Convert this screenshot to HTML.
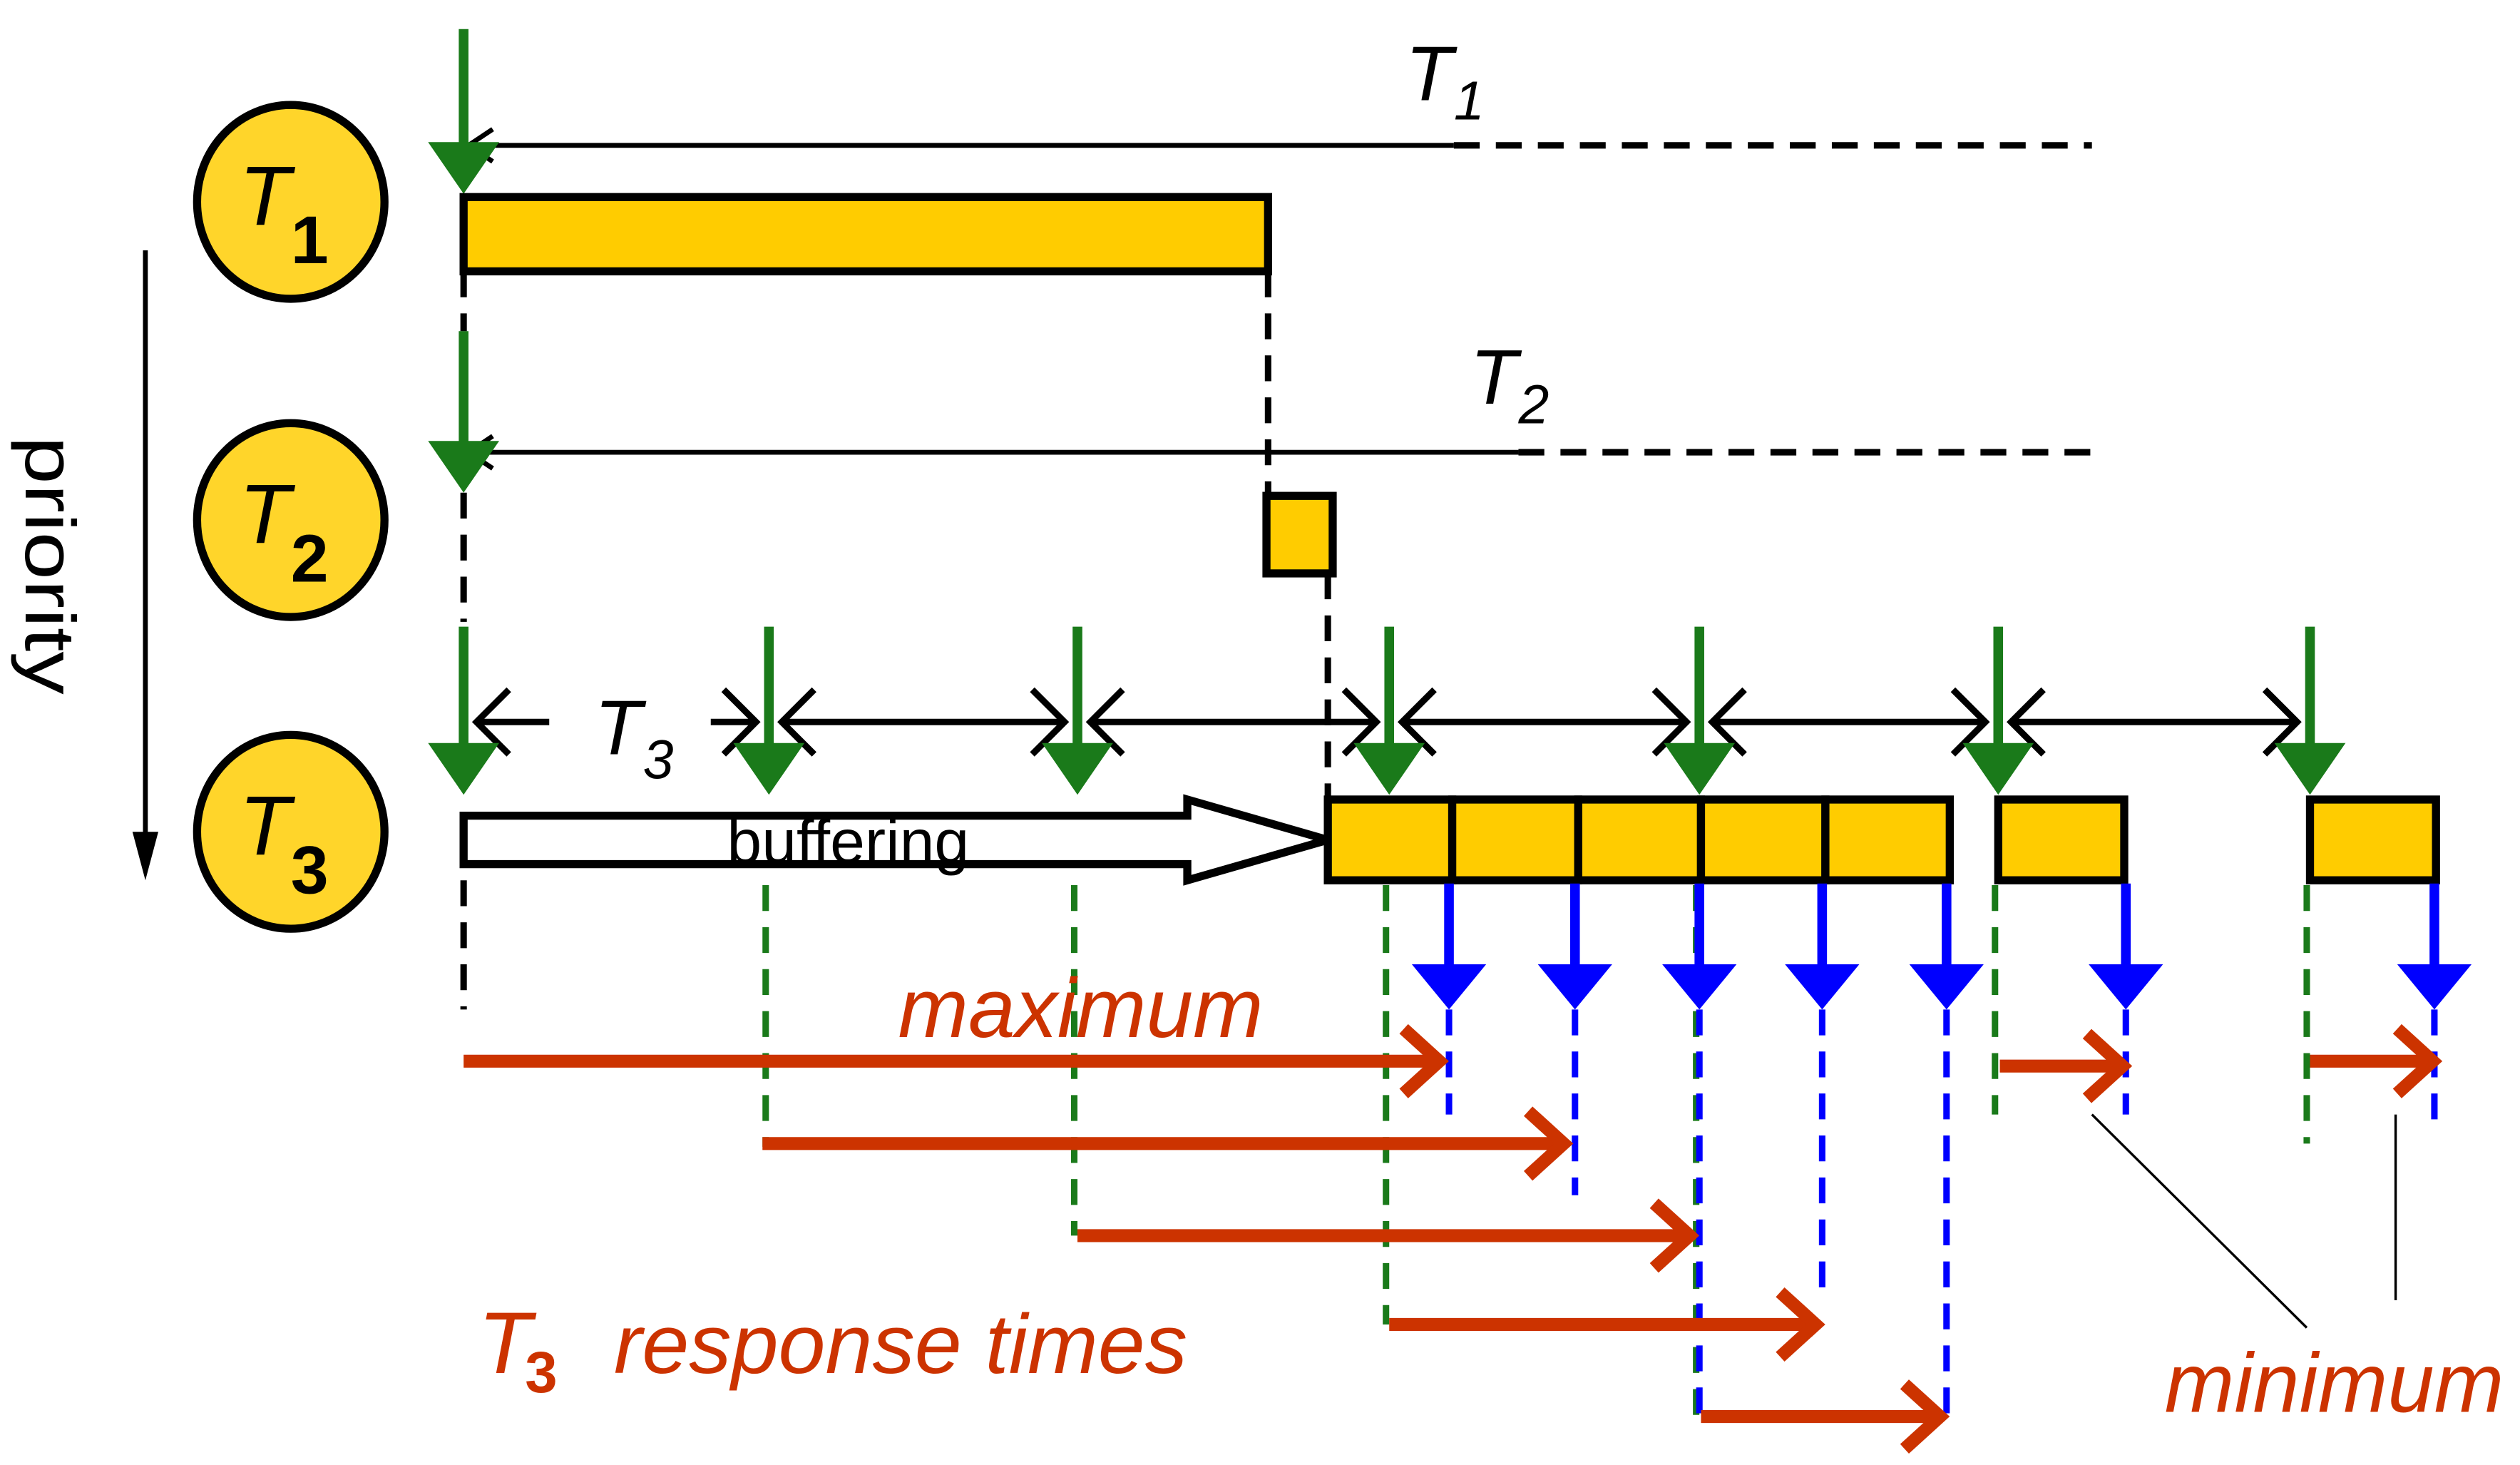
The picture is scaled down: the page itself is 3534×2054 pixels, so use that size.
<!DOCTYPE html>
<html><head><meta charset="utf-8"><style>
html,body{margin:0;padding:0;background:#fff;}
svg{display:block;}
text{font-family:"Liberation Sans",sans-serif;}
</style></head><body>
<svg id="chart" xmlns="http://www.w3.org/2000/svg" width="3534" height="2054" viewBox="0 0 1560 907" preserveAspectRatio="none">
<g id="static"></g>
</svg>
<script>
// data (time in diagram x units)
const t3Releases = [287, 476, 667, 860, 1052, 1237, 1430];
const t3JobEnds = [897, 975, 1052, 1128, 1205, 1316, 1507];
const t3BarSegments = [[822,899],[899,977],[977,1053],[1053,1130],[1130,1207],[1237,1315],[1430,1508]];
const responseStarts = [287, 472, 667, 860, 1053, 1238, 1430];
const responseEnds = [895, 972, 1050, 1128, 1205, 1318, 1510];
const responseY = [657, 708, 765, 820, 877, 660, 657];
const blueDashEnd = [690, 740, 885, 800, 875, 690, 695];
const greenDashEnd = [625, 710, 765, 820, 885, 690, 708];

const NS='http://www.w3.org/2000/svg';
const svg=document.getElementById('chart');
function mk(tag,attrs,parent){const e=document.createElementNS(NS,tag);for(const k in attrs)e.setAttribute(k,attrs[k]);(parent||svg).appendChild(e);return e;}
const G='#1a7a1a',Y='#FFCC00',R='#CC3300',B='#0000FF';

function greenArrow(x,y1,y2,name){
  const g=mk('g',{});
  
  
  mk('line',{x1:x,y1:y1,x2:x,y2:y2-20,stroke:G,'stroke-width':6},g);
  mk('polygon',{points:`${x-22},${y2-32} ${x+22},${y2-32} ${x},${y2}`,fill:G},g);
}
function dashV(x,y1,y2,col,name,w){
  const l=mk('line',{x1:x,y1:y1,x2:x,y2:y2,stroke:col,'stroke-width':w||4,'stroke-dasharray':'16,10'});
  
  
}
// circles
[[125,'1'],[322,'2'],[515,'3']].forEach(([cy,n])=>{
  const g=mk('g',{});
  
  
  mk('ellipse',{cx:180,cy:cy,rx:58,ry:60,fill:'#FFD52A',stroke:'#000','stroke-width':5},g);
  const t=mk('text',{x:148,y:cy+14,'font-size':52,'font-style':'italic','font-family':'Liberation Serif,serif'},g);t.textContent='T';
  const s=mk('text',{x:180,y:cy+38,'font-size':42,'font-weight':'bold'},g);s.textContent=n;
});
// priority
let pa=mk('line',{x1:90,y1:155,x2:90,y2:520,stroke:'#000','stroke-width':3});

mk('polygon',{points:'82,515 98,515 90,545',fill:'#000'});
let pt=mk('text',{x:0,y:0,'font-size':44,transform:'translate(16,270) rotate(90)',textLength:160,lengthAdjust:'spacingAndGlyphs'});pt.textContent='priority';


// periods T1, T2
[[90,900,'T1',870,62,'1'],[280,940,'T2',910,250,'2']].forEach(([y,xs,nm,lx,ly,n])=>{
  mk('line',{x1:290,y1:y,x2:xs,y2:y,stroke:'#000','stroke-width':3});
  mk('line',{x1:xs,y1:y,x2:1295,y2:y,stroke:'#000','stroke-width':4,'stroke-dasharray':'16,10'});
  mk('polyline',{points:`${305},${y-10} ${290},${y} ${305},${y+10}`,fill:'none',stroke:'#000','stroke-width':3});
  const t=mk('text',{x:lx,y:ly,'font-size':48,'font-style':'italic','font-family':'Liberation Serif,serif'});t.textContent='T';
  
  const s=mk('text',{x:lx+30,y:ly+12,'font-size':34,'font-style':'italic','font-family':'Liberation Serif,serif'});s.textContent=n;
});
greenArrow(287,18,120,'t1-release-arrow');
greenArrow(287,205,305,'t2-release-arrow');
let b1=mk('rect',{x:287,y:122,width:498,height:46,fill:Y,stroke:'#000','stroke-width':5});

let b2=mk('rect',{x:784,y:307,width:41,height:48,fill:Y,stroke:'#000','stroke-width':5});

dashV(287,168,205,'#000','t1-drop-line');
dashV(785,168,307,'#000','t1-end-line');
dashV(287,305,385,'#000','t2-drop-line');
dashV(822,355,495,'#000','t2-end-line');
dashV(287,545,625,'#000','t3-start-line');

// buffering arrow
let bf=mk('polygon',{points:'287,505 735,505 735,495 822,520 735,545 735,535 287,535',fill:'#fff',stroke:'#000','stroke-width':5});

let bt=mk('text',{x:450,y:534,'font-size':38,textLength:150,lengthAdjust:'spacingAndGlyphs'});bt.textContent='buffering';


// T3 bars
t3BarSegments.forEach((s,i)=>{
  const r=mk('rect',{x:s[0],y:495,width:s[1]-s[0],height:50,fill:Y,stroke:'#000','stroke-width':5});
  
});
// T3 period double arrows
for(let i=0;i<t3Releases.length-1;i++){
  const a=t3Releases[i]+8,b=t3Releases[i+1]-8,y=447;
  if(i===0){mk('line',{x1:a,y1:y,x2:340,y2:y,stroke:'#000','stroke-width':4});mk('line',{x1:440,y1:y,x2:b,y2:y,stroke:'#000','stroke-width':4});}
  else mk('line',{x1:a,y1:y,x2:b,y2:y,stroke:'#000','stroke-width':4});
  mk('polyline',{points:`${a+20},${y-20} ${a},${y} ${a+20},${y+20}`,fill:'none',stroke:'#000','stroke-width':4});
  mk('polyline',{points:`${b-20},${y-20} ${b},${y} ${b-20},${y+20}`,fill:'none',stroke:'#000','stroke-width':4});
}
let t3t=mk('text',{x:368,y:467,'font-size':48,'font-style':'italic','font-family':'Liberation Serif,serif'});t3t.textContent='T';

mk('text',{x:398,y:482,'font-size':34,'font-style':'italic','font-family':'Liberation Serif,serif'}).textContent='3';

// release arrows + green dashes
t3Releases.forEach((x,i)=>{
  greenArrow(x,388,492,'t3-release-arrow-'+(i+1));
  if(i>0) dashV(x-2,548,greenDashEnd[i],G,'t3-release-line-'+(i+1));
});
// completion blue arrows
t3JobEnds.forEach((x,i)=>{
  const g=mk('g',{});
  
  
  mk('line',{x1:x,y1:547,x2:x,y2:605,stroke:B,'stroke-width':6},g);
  mk('polygon',{points:`${x-23},${597} ${x+23},${597} ${x},${625}`,fill:B},g);
  dashV(x,625,blueDashEnd[i],B,'t3-completion-line-'+(i+1));
});
// response time arrows
responseStarts.forEach((x,i)=>{
  const y=responseY[i],e=responseEnds[i];
  const g=mk('g',{});
  
  
  mk('line',{x1:x,y1:y,x2:e-4,y2:y,stroke:R,'stroke-width':8},g);
  mk('polyline',{points:`${e-26},${y-20} ${e-4},${y} ${e-26},${y+20}`,fill:'none',stroke:R,'stroke-width':8},g);
});
// labels
let mx=mk('text',{x:556,y:642,'font-size':52,'font-style':'italic',fill:R,textLength:226,lengthAdjust:'spacingAndGlyphs'});mx.textContent='maximum';

let mn=mk('text',{x:1340,y:874,'font-size':52,'font-style':'italic',fill:R,textLength:210,lengthAdjust:'spacingAndGlyphs'});mn.textContent='minimum';

let rt=mk('g',{});
mk('text',{x:296,y:850,'font-size':54,'font-style':'italic',fill:R,'font-family':'Liberation Serif,serif'},rt).textContent='T';
mk('text',{x:325,y:862,'font-size':36,'font-weight':'bold',fill:R},rt).textContent='3';
mk('text',{x:380,y:850,'font-size':52,'font-style':'italic',fill:R,textLength:355,lengthAdjust:'spacingAndGlyphs'},rt).textContent='response times';
let l1=mk('line',{x1:1295,y1:690,x2:1428,y2:822,stroke:'#000','stroke-width':1.5});

let l2=mk('line',{x1:1483,y1:690,x2:1483,y2:805,stroke:'#000','stroke-width':1.5});

</script>
</body></html>
